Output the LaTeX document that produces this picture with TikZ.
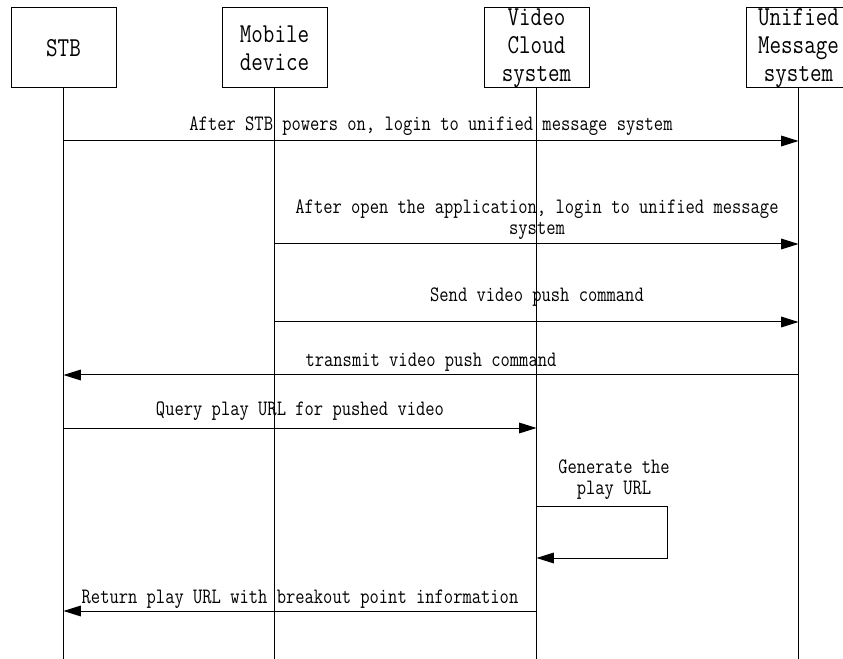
\documentclass[tikz,border=0pt]{standalone}
\usepackage{fontspec}
\setmainfont{Latin Modern Mono}[FakeStretch=0.82]
\usetikzlibrary{arrows.meta}
\begin{document}
\begin{tikzpicture}[x=0.75pt,y=-0.75pt,line width=0.75pt,
  font=\fontsize{16.5pt}{16pt}\selectfont,
  actor/.style={draw,minimum width=78.75pt,minimum height=60pt,inner sep=0pt,align=center,font=\fontsize{20.5pt}{21pt}\selectfont},
  msg/.style={-{Triangle[length=13pt,width=8pt]}},
  lbl/.style={inner sep=0pt,align=center,anchor=base}]
\useasboundingbox (0,0) rectangle (843,659);
\clip (0,0) rectangle (843,659);
% actors
\node[actor] (stb) at (63.5,48) {STB};
\node[actor] (mob) at (274.5,48) {Mobile\\device};
\node[actor] (vcs) at (536.5,48) {Video\\Cloud\\system};
\node[actor] (ums) at (798.5,48) {Unified\\Message\\system};
% lifeline ends
\coordinate (stbE) at (63.5,659);
\coordinate (mobE) at (274.5,659);
\coordinate (vcsE) at (536.5,659);
\coordinate (umsE) at (798.5,659);
\draw (stb.south) -- (stbE);
\draw (mob.south) -- (mobE);
\draw (vcs.south) -- (vcsE);
\draw (ums.south) -- (umsE);
% message points
\coordinate (a1) at (63.5,141); \coordinate (b1) at (798.5,141);
\coordinate (a2) at (274.5,244); \coordinate (b2) at (798.5,244);
\coordinate (a3) at (274.5,322); \coordinate (b3) at (798.5,322);
\coordinate (a4) at (798.5,375); \coordinate (b4) at (63.5,375);
\coordinate (a5) at (63.5,428); \coordinate (b5) at (536.5,428);
\coordinate (a6) at (536.5,506); \coordinate (c6) at (667,506); \coordinate (d6) at (667,558); \coordinate (b6) at (536.5,558);
\coordinate (a7) at (536.5,611); \coordinate (b7) at (63.5,611);
% messages
\draw[msg] (a1) -- (b1);
\node[lbl] (l1) at (431,131) {After STB powers on, login to unified message system};
\draw[msg] (a2) -- (b2);
\node[lbl] (l2) at (537,214) {After open the application, login to unified message};
\node[lbl] (l2b) at (537,235) {system};
\draw[msg] (a3) -- (b3);
\node[lbl] (l3) at (537,302) {Send video push command};
\draw[msg] (a4) -- (b4);
\node[lbl] (l4) at (431,367) {transmit video push command};
\draw[msg] (a5) -- (b5);
\node[lbl] (l5) at (300,416) {Query play URL for pushed video};
\draw[msg] (a6) -- (c6) -- (d6) -- (b6);
\node[lbl] (l6) at (614,474) {Generate the};
\node[lbl] (l6b) at (614,494) {play URL};
\draw[msg] (a7) -- (b7);
\node[lbl] (l7) at (300,603) {Return play URL with breakout point information};
\end{tikzpicture}
\end{document}
